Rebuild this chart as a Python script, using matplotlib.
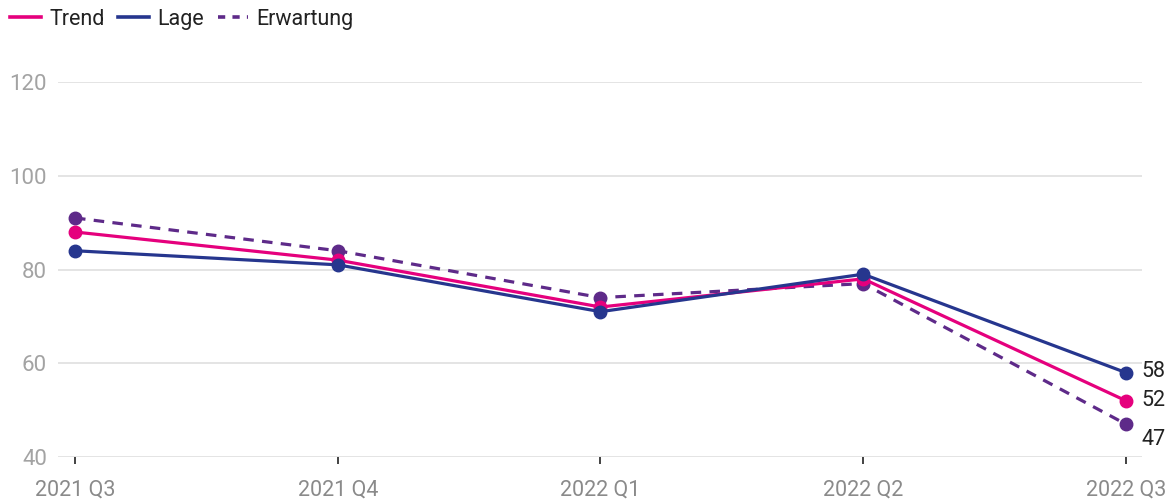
import matplotlib.pyplot as plt
from matplotlib.lines import Line2D

plt.rcParams['font.family'] = ['Roboto', 'DejaVu Sans']

quarters = ["2021 Q3", "2021 Q4", "2022 Q1", "2022 Q2", "2022 Q3"]
trend = [88, 82, 72, 78, 52]
lage = [84, 81, 71, 79, 58]
erwartung = [91, 84, 74, 77, 47]

C_TREND = "#e5007d"
C_LAGE = "#26368e"
C_ERW = "#5e2a89"

fig = plt.figure(figsize=(11.75, 5.03), dpi=100)
ax = fig.add_axes([58 / 1175, 46 / 503, (1142 - 58) / 1175, (457 - 82) / 503])

x = list(range(len(quarters)))
ax.plot(x, erwartung, color=C_ERW, lw=2.3, ls=(0, (3.3, 2.6)), marker="o", ms=9, zorder=3)
ax.plot(x, trend, color=C_TREND, lw=2.3, marker="o", ms=9, zorder=4)
ax.plot(x, lage, color=C_LAGE, lw=2.3, marker="o", ms=9, zorder=5)

# end labels
for vals, dy in [(lage, 1), (trend, 0), (erwartung, -11)]:
    ax.annotate(str(vals[-1]), (x[-1], vals[-1]), xytext=(11, dy), textcoords="offset points",
                ha="left", va="center", fontsize=15.5, color="#222222", annotation_clip=False)

ax.set_xlim(-0.0647, 4.061)
ax.set_ylim(40, 120)
ax.set_yticks([40, 60, 80, 100, 120])
ax.set_xticks(x)
ax.set_xticklabels(quarters)
ax.grid(axis="y", color="#e2e2e2", lw=1.3)
ax.set_axisbelow(True)
for s in ax.spines.values():
    s.set_visible(False)
ax.tick_params(axis="y", length=0, pad=8, labelsize=16, labelcolor="#a3a3a3")
ax.tick_params(axis="x", length=5, width=1.2, color="#222222", pad=11, labelsize=15.5, labelcolor="#8a8a8a")

handles = [
    Line2D([], [], color=C_TREND, lw=2.6),
    Line2D([], [], color=C_LAGE, lw=2.6),
    Line2D([], [], color=C_ERW, lw=2.6, ls=(0, (2.0, 2.0))),
]
leg = fig.legend(handles, ["Trend", "Lage", "Erwartung"], loc="upper left", bbox_to_anchor=(-0.004, 1.012),
                 ncol=3, frameon=False, fontsize=15.5, handlelength=1.4, handletextpad=0.4,
                 columnspacing=0.65, borderaxespad=0.3)
for t in leg.get_texts():
    t.set_color("#222222")

fig.savefig("out.png", dpi=100)
